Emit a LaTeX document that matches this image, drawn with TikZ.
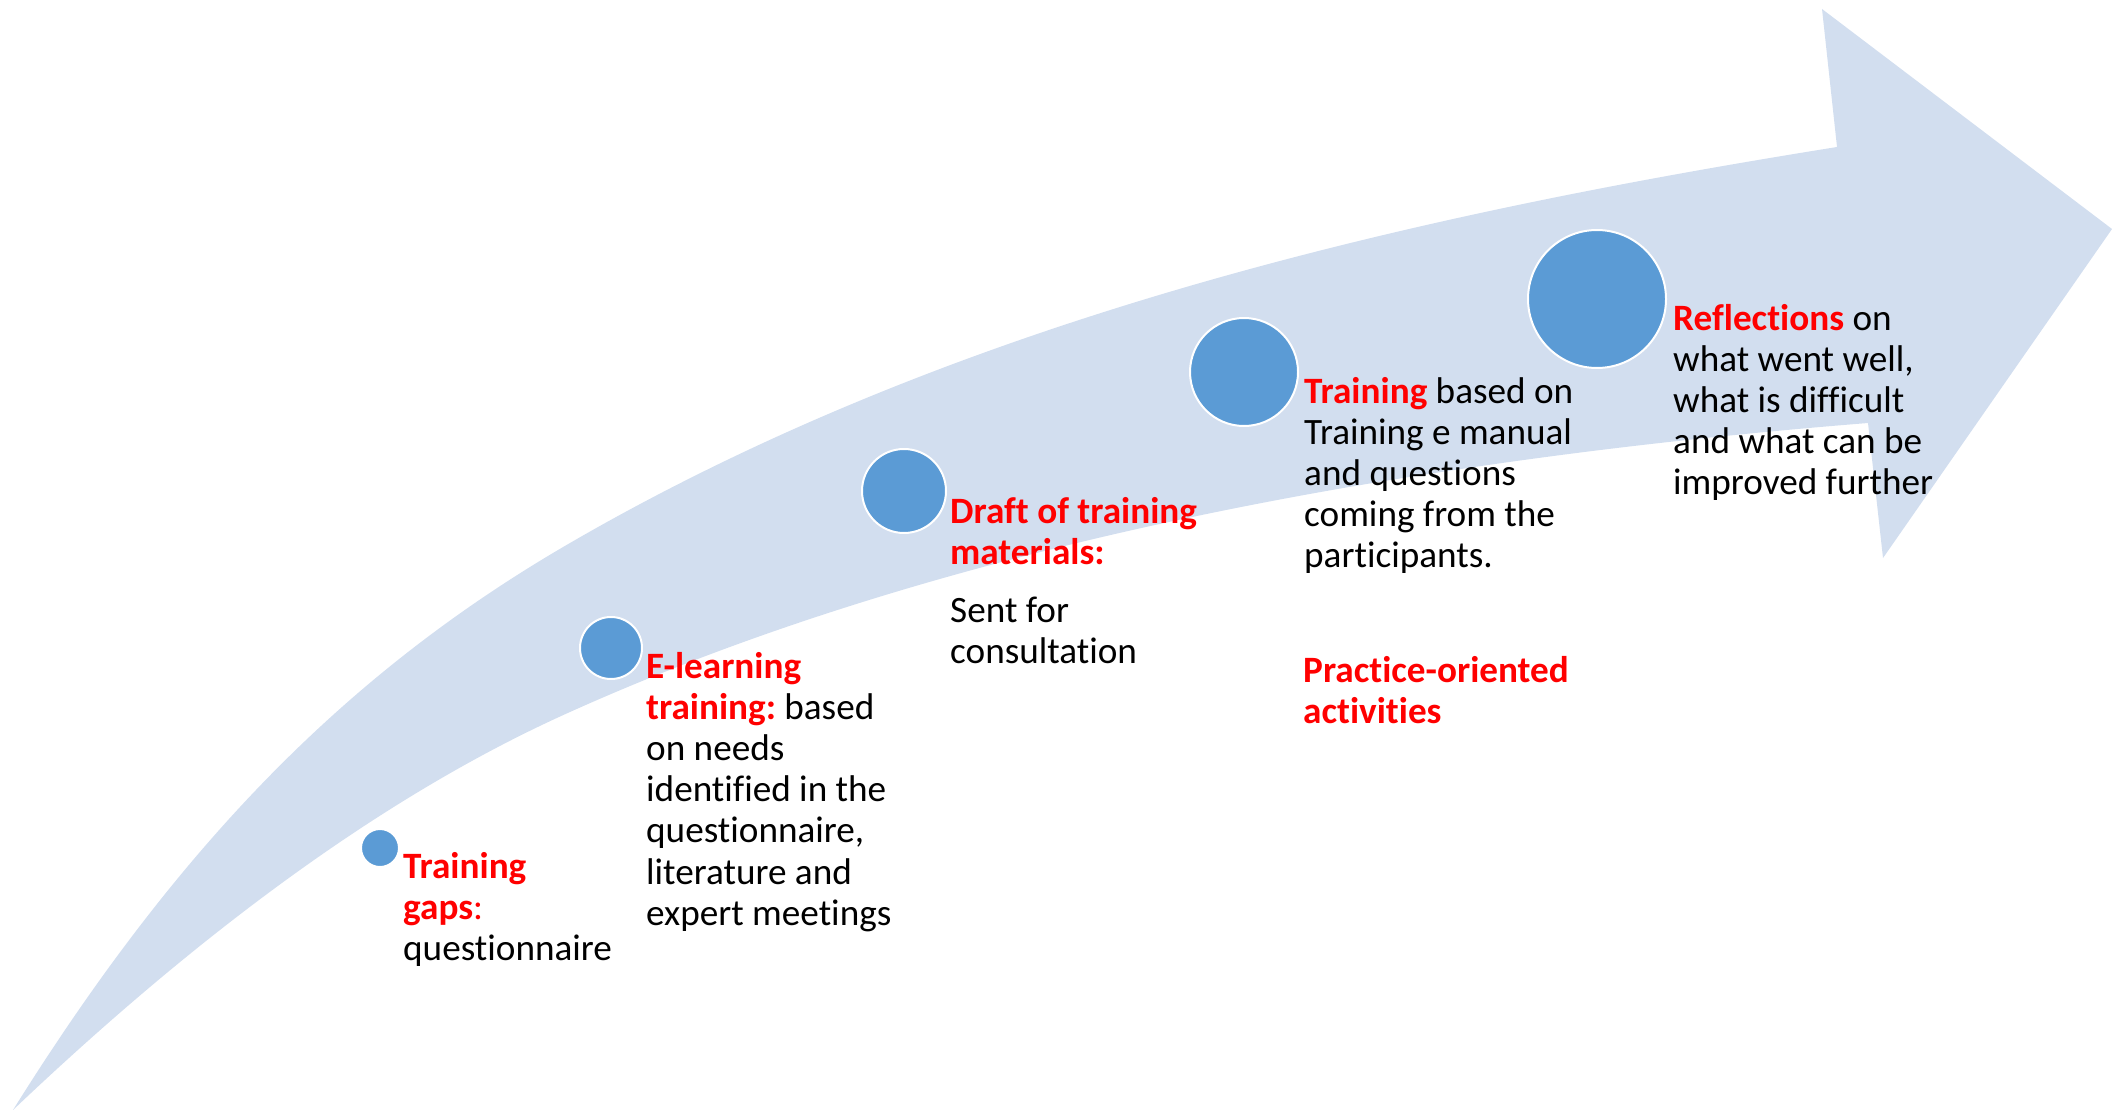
\documentclass[tikz,border=0pt]{standalone}
\usepackage{fontspec}
\setmainfont{Carlito}[Ligatures=CommonOff]
\definecolor{arrowfill}{RGB}{210,222,239}
\definecolor{dotblue}{RGB}{91,155,213}
\definecolor{hired}{RGB}{255,0,0}
\newcommand{\redb}[1]{{\bfseries\color{hired}#1}}
\frenchspacing
\tikzset{
  stepdot/.style={circle, fill=dotblue, draw=white, line width=2pt, inner sep=0pt},
  txt/.style={anchor=base west, inner sep=0pt, text=black, font=\fontsize{37.2}{41.2}\selectfont},
}
\begin{document}
\begin{tikzpicture}[x=1pt, y=-1pt]
\useasboundingbox (0,0) rectangle (2112,1110);
% curved arrow
\fill[arrowfill] (13,1110)
  .. controls (173,854) and (340,676) .. (570,543)
  .. controls (970,311) and (1437,211) .. (1837,147)
  -- (1822,9) -- (2112,229) -- (1883,558) -- (1868,423)
  .. controls (1418,459) and (950,541) .. (570,712)
  .. controls (380,797) and (193,939) .. (13,1110)
  -- cycle;
% circles
\node[stepdot, minimum size=38pt] (c1) at (380,848) {};
\node[stepdot, minimum size=62pt] (c2) at (611,648) {};
\node[stepdot, minimum size=84pt] (c3) at (904,491) {};
\node[stepdot, minimum size=108pt] (c4) at (1244,372) {};
\node[stepdot, minimum size=138pt] (c5) at (1597,299) {};
% texts
\node[txt] (t1) at (403,878) {\vtop{\hbox{\redb{Training}}\hbox{\redb{gaps}{\color{hired}:}}\hbox{questionnaire}}};
\node[txt] (t2) at (646,678) {\vtop{\hbox{\redb{E-learning}}\hbox{\redb{training:} based}\hbox{on needs}\hbox{identified in the}\hbox{questionnaire,}\hbox{literature and}\hbox{expert meetings}}};
\node[txt] (t3) at (950,523) {\vtop{\hbox{\redb{Draft of training}}\hbox{\redb{materials:}}\vskip 17pt\hbox{Sent for}\hbox{consultation}}};
\node[txt] (t4) at (1304,403) {\vtop{\hbox{\redb{Training} based on}\hbox{Training e manual}\hbox{and questions}\hbox{coming from the}\hbox{participants.}}};
\node[txt] (t5) at (1303,682) {\vtop{\hbox{\redb{Practice-oriented}}\hbox{\redb{activities}}}};
\node[txt] (t6) at (1673,330) {\vtop{\hbox{\redb{Reflections} on}\hbox{what went well,}\hbox{what is difficult}\hbox{and what can be}\hbox{improved further}}};
\end{tikzpicture}
\end{document}
